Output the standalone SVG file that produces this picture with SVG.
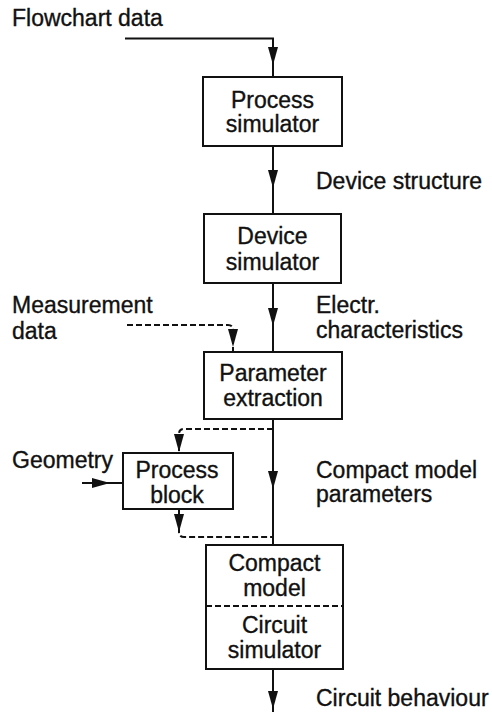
<svg xmlns="http://www.w3.org/2000/svg" width="492" height="712" viewBox="0 0 492 712">
  <style>
    .box { fill: #fff; stroke: #111; stroke-width: 2; }
    .line { fill: none; stroke: #111; stroke-width: 2; }
    .dash { fill: none; stroke: #111; stroke-width: 2; stroke-dasharray: 6 3; }
    .lbl { font-family: "Liberation Sans", Arial, Helvetica, sans-serif; font-size: 23px; fill: #111; stroke: #111; stroke-width: 0.35; }
    .mid { text-anchor: middle; }
    .head { fill: #111; }
  </style>
  <defs>
    <!-- arrowhead, tip at origin, pointing down -->
    <path id="ah" class="head" d="M0,0 L-5,-18 L5,-18 Z"/>
  </defs>

  <rect width="492" height="712" fill="#fff"/>

  <!-- connectors -->
  <g id="connectors">
    <path class="line" d="M125,38.5 H273 V77"/>
    <use href="#ah" x="273" y="65"/>

    <path class="line" d="M273,146 V214"/>
    <use href="#ah" x="273" y="188"/>

    <path class="line" d="M273,283 V352"/>
    <use href="#ah" x="273" y="326"/>

    <path class="dash" d="M127,325 H228 Q233,325 233,330 V352"/>
    <use href="#ah" x="233" y="347"/>

    <path class="line" d="M273,419 V545"/>
    <use href="#ah" x="273" y="489"/>

    <path class="dash" d="M273,429 H184 Q179,429 179,434 V453"/>
    <use href="#ah" x="179" y="452"/>

    <path class="dash" d="M179,509 V532 Q179,537 184,537 H273"/>
    <use href="#ah" x="179" y="532"/>

    <path class="line" d="M82,483 H123"/>
    <use href="#ah" transform="translate(110,483) rotate(-90)"/>

    <path class="line" d="M273,669 V712"/>
    <use href="#ah" x="273" y="709"/>
  </g>

  <!-- nodes -->
  <g id="process-simulator">
    <rect class="box" x="203" y="77" width="139" height="69"/>
    <text class="lbl mid" x="272.5" y="108">Process</text>
    <text class="lbl mid" x="272.5" y="132">simulator</text>
  </g>

  <g id="device-simulator">
    <rect class="box" x="204" y="214" width="137" height="69"/>
    <text class="lbl mid" x="272.5" y="244">Device</text>
    <text class="lbl mid" x="272.5" y="270">simulator</text>
  </g>

  <g id="parameter-extraction">
    <rect class="box" x="204" y="352" width="138" height="67"/>
    <text class="lbl mid" x="273" y="381">Parameter</text>
    <text class="lbl mid" x="273" y="406">extraction</text>
  </g>

  <g id="process-block">
    <rect class="box" x="123" y="453" width="110" height="56"/>
    <text class="lbl mid" x="177" y="478">Process</text>
    <text class="lbl mid" x="177" y="503">block</text>
  </g>

  <g id="compact-model-circuit-simulator">
    <rect class="box" x="206" y="545" width="137" height="124"/>
    <path class="dash" d="M206,606 H343"/>
    <text class="lbl mid" x="274.5" y="571">Compact</text>
    <text class="lbl mid" x="274.5" y="596">model</text>
    <text class="lbl mid" x="274.5" y="633">Circuit</text>
    <text class="lbl mid" x="274.5" y="658">simulator</text>
  </g>

  <!-- free labels -->
  <g id="labels">
    <text class="lbl" x="12" y="26">Flowchart data</text>
    <text class="lbl" x="316" y="189">Device structure</text>
    <text class="lbl" x="12" y="313">Measurement</text>
    <text class="lbl" x="12" y="339">data</text>
    <text class="lbl" x="316" y="313">Electr.</text>
    <text class="lbl" x="316" y="338">characteristics</text>
    <text class="lbl" x="12" y="468">Geometry</text>
    <text class="lbl" x="316" y="478">Compact model</text>
    <text class="lbl" x="316" y="502">parameters</text>
    <text class="lbl" x="316" y="706">Circuit behaviour</text>
  </g>
</svg>
